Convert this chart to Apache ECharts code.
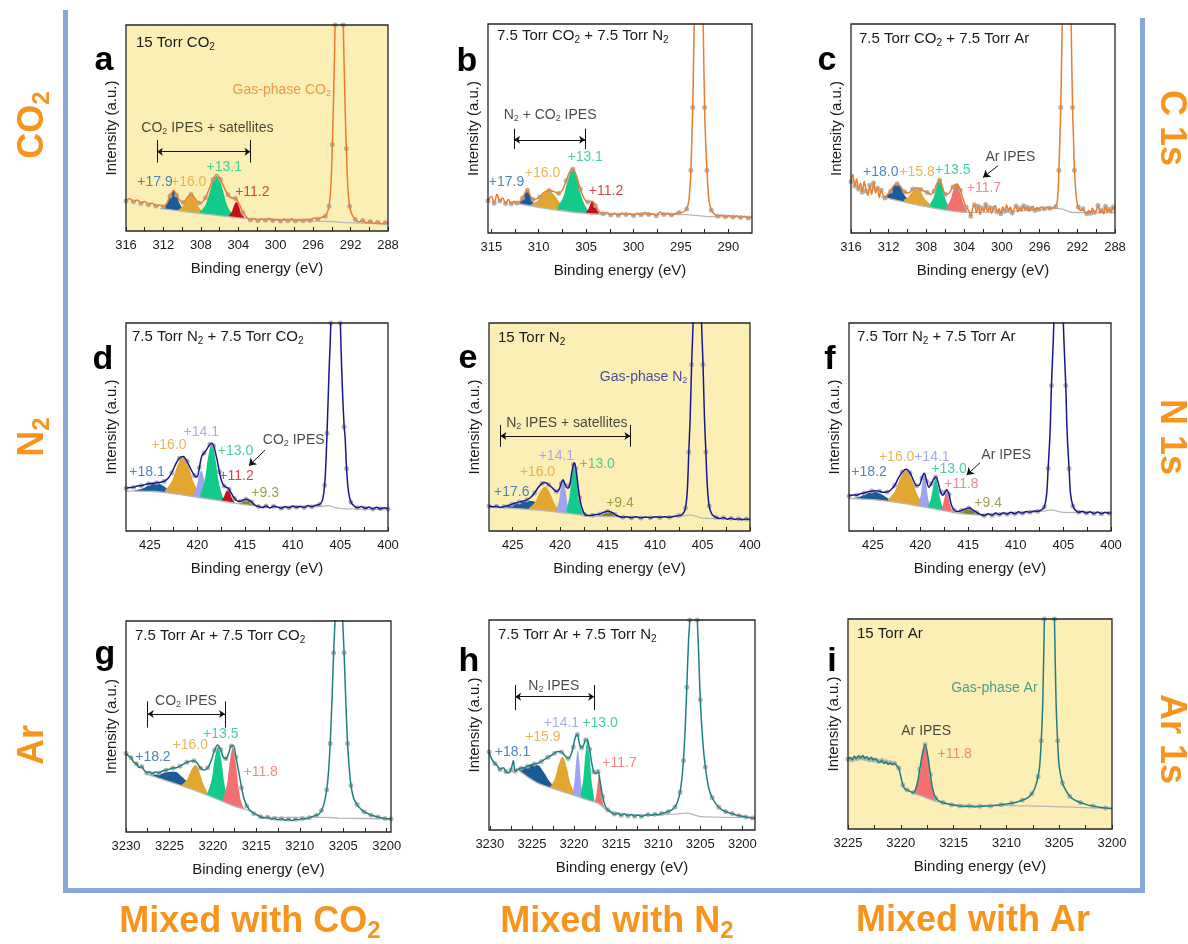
<!DOCTYPE html>
<html>
<head>
<meta charset="utf-8">
<title>IPES spectra of mixed gases</title>
<script src="https://cdn.jsdelivr.net/npm/echarts@6.0.0/dist/echarts.min.js"></script>
<style>
  html, body { margin: 0; padding: 0; background: #fff; }
  #main { width: 1188px; height: 944px; }
</style>
</head>
<body>
<div id="main"></div>
<script>
// ---------- tick positions / labels ----------
const X_C_TICKS = [288, 290, 292, 294, 296, 298, 300, 302, 304, 306, 308, 310, 312, 314, 316];
const X_C_LABELS = [288, 292, 296, 300, 304, 308, 312, 316];
const X_B_TICKS = [290, 292.5, 295, 297.5, 300, 302.5, 305, 307.5, 310, 312.5, 315];
const X_B_LABELS = [290, 295, 300, 305, 310, 315];
const X_N_TICKS = [400, 402.5, 405, 407.5, 410, 412.5, 415, 417.5, 420, 422.5, 425];
const X_N_LABELS = [400, 405, 410, 415, 420, 425];
const X_AR_TICKS = [3200, 3202.5, 3205, 3207.5, 3210, 3212.5, 3215, 3217.5, 3220, 3222.5, 3225, 3227.5, 3230];
const X_AR_LABELS = [3200, 3205, 3210, 3215, 3220, 3225, 3230];
const X_I_TICKS = [3200, 3202.5, 3205, 3207.5, 3210, 3212.5, 3215, 3217.5, 3220, 3222.5, 3225];
const X_I_LABELS = [3200, 3205, 3210, 3215, 3220, 3225];

// ---------- panel a : 15 Torr CO2, C 1s ----------
const aLine = [[316,14.6],[315.6,15.8],[315.2,14.2],[314.8,15.1],[314.4,13.4],[314,14.3],[313.6,12.8],[313.2,13.6],[312.8,12.1],[312.4,12.6],[312,11.8],[311.6,13.8],[311.3,17.0],[310.9,19.6],[310.6,17.5],[310.3,15.2],[309.9,13.8],[309.5,16.0],[309.05,17.8],[308.6,15.6],[308.2,13.6],[307.9,13.8],[307.5,16.2],[307.1,20.5],[306.7,25.0],[306.3,27.4],[305.9,25.0],[305.5,21.0],[305.1,17.6],[304.7,16.0],[304.3,15.8],[303.9,13.0],[303.5,9.0],[303.1,6.6],[302.7,5.4],[302.3,6.1],[301.9,5.0],[301.5,5.9],[301.1,5.2],[300.7,6.2],[300.3,5.1],[299.9,5.7],[299.5,4.8],[299.1,5.8],[298.7,5.0],[298.3,5.9],[297.9,4.9],[297.5,5.6],[297.1,5.0],[296.7,5.7],[296.3,5.1],[295.9,6.3],[295.5,5.8],[295.1,6.6],[294.7,7.2],[294.45,9.5],[294.3,12],[294.1,22],[293.95,42],[293.85,58],[293.65,100],[293.45,150],[293.2,200],[292.95,150],[292.78,100],[292.57,58],[292.45,40],[292.3,22],[292.1,12],[291.85,8],[291.5,5.6],[291.1,4.4],[290.7,5.1],[290.3,3.9],[289.9,4.6],[289.5,3.6],[289.1,4.3],[288.7,3.4],[288.3,4.0],[288,3.6]];
const aBase = [[312.4,11.0],[303,6.0],[296,4.8],[294,4.6],[292.5,4.1],[288,3.6]];
const aBlue = [[312.1,11.1],[311.6,13.3],[311.3,16.5],[310.9,19.4],[310.5,16.1],[310.2,12.6],[309.7,9.9]];
const aGold = [[310.4,10.3],[309.9,12.3],[309.5,15.5],[309.05,17.8],[308.6,15.1],[308.2,11.4],[307.7,8.9]];
const aGreen = [[308.1,9.4],[307.5,12.8],[307.0,19.6],[306.7,24.1],[306.3,26.7],[305.9,23.6],[305.6,18.9],[305.1,11.5],[304.5,7.5]];
const aRed = [[305.0,7.5],[304.7,9.3],[304.45,12.4],[304.2,14.1],[303.95,12.1],[303.7,8.8],[303.35,6.5]];
const aNotes = [['+17.9',312.9,23.6,'blue'],['+16.0',309.3,23.6,'gold'],['+13.1',305.5,30.8,'green'],['+11.2',302.5,18.8,'red'],['CO{s|2} IPES + satellites',307.3,50,'black'],['Gas-phase CO{s|2}',294.1,68.3,'co2','right']];
const aBrackets = [[312.7,302.7,44.2,33.2,38.5]];

// ---------- panel b : 7.5 Torr CO2 + 7.5 Torr N2, C 1s ----------
const bLine = [[315.35,15.4],[315,17.6],[314.7,14.2],[314.4,18.5],[314.1,15.3],[313.8,16.8],[313.5,14.1],[313.2,16.0],[312.9,14.0],[312.6,15.2],[312.3,14.4],[312,15.0],[311.7,16.8],[311.4,19.6],[311.2,20.4],[310.9,18.0],[310.6,16.0],[310.3,16.2],[309.9,17.2],[309.5,19.2],[308.9,20.3],[308.4,19.8],[307.9,19.0],[307.5,20.5],[307.1,25.0],[306.7,29.5],[306.4,30.6],[306.0,27.0],[305.6,21.0],[305.2,16.5],[304.8,14.8],[304.4,15.2],[304.0,13.0],[303.6,10.2],[303.2,9.2],[302.8,9.8],[302.4,8.6],[302.0,9.4],[301.6,8.5],[301.2,9.6],[300.8,8.8],[300.4,9.3],[300,8.4],[299.6,9.5],[299.2,8.7],[298.8,9.8],[298.4,8.9],[298,9.2],[297.6,8.3],[297.2,10.0],[296.8,8.8],[296.4,9.4],[296,8.6],[295.6,9.3],[295.2,9.8],[294.8,10.0],[294.4,11.5],[294.15,16],[293.95,30],[293.85,45],[293.75,60],[293.6,100],[293.4,150],[293.1,200],[292.8,150],[292.65,100],[292.5,60],[292.4,45],[292.25,30],[292.05,16],[291.8,11],[291.5,9.2],[291.1,8.0],[290.7,8.6],[290.3,7.8],[289.9,8.4],[289.5,7.6],[289.1,8.2],[288.7,7.4],[288.3,8.0],[287.9,7.2],[287.5,7.6]];
const bBase = [[312.9,14.6],[303.6,9.0],[298,8.9],[294.5,8.8],[292.5,8.0],[287.5,7.6]];
const bBlue = [[312.0,14.5],[311.7,16.2],[311.45,18.8],[311.2,20.2],[310.95,18.6],[310.7,15.6],[310.4,13.5]];
const bGold = [[310.8,13.8],[310.1,15.5],[309.5,18.5],[308.9,20.2],[308.3,17.8],[307.7,14.0],[307.0,11.5]];
const bGreen = [[308.0,12.6],[307.4,17.3],[306.9,25.7],[306.4,30.6],[305.9,25.1],[305.4,16.1],[304.8,10.7]];
const bRed = [[305.0,10.2],[304.75,11.6],[304.52,14.1],[304.3,15.4],[304.08,13.9],[303.85,11.05],[303.6,9.4]];
const bNotes = [['+17.9',313.4,24.2,'blue'],['+16.0',309.6,28.5,'gold'],['+13.1',305.1,36.2,'green'],['+11.2',302.9,20.2,'red'],['N{s|2} + CO{s|2} IPES',308.8,56.3,'black']];
const bBrackets = [[312.6,305.1,49.9,40.2,44.6]];

// ---------- panel c : 7.5 Torr CO2 + 7.5 Torr Ar, C 1s ----------
const cLine = [[316,24.5],[315.8,28],[315.6,22.5],[315.4,25.8],[315.2,21.0],[315,23.8],[314.8,19.5],[314.6,24.6],[314.4,20.2],[314.2,18.0],[314,22.8],[313.8,18.6],[313.6,24.0],[313.4,19.2],[313.2,21.5],[313,17.0],[312.8,20.4],[312.6,18.2],[312.4,16.8],[312.1,18.5],[311.8,20.0],[311.5,22.5],[311.1,23.6],[310.7,22.0],[310.3,19.6],[309.9,19.2],[309.45,21.0],[309.0,21.6],[308.6,20.8],[308.2,20.0],[307.9,19.4],[307.5,18.4],[307.2,20.0],[306.9,23.5],[306.6,25.4],[306.3,22.0],[306,18.6],[305.6,19.0],[305.2,22.0],[304.8,23.4],[304.4,20.5],[304.1,16.0],[303.8,12.5],[303.5,10.5],[303.3,8.0],[303.1,11.6],[302.9,13.5],[302.7,9.8],[302.5,12.8],[302.3,8.9],[302.1,12.0],[301.9,10.4],[301.7,13.6],[301.5,10.0],[301.3,12.2],[301.1,9.4],[300.9,11.8],[300.7,13.2],[300.5,10.1],[300.3,11.6],[300.1,9.2],[299.9,12.6],[299.7,10.4],[299.5,13.4],[299.3,10.8],[299.1,12.4],[298.9,9.6],[298.7,11.4],[298.5,12.9],[298.3,10.2],[298.1,11.9],[297.9,10.6],[297.7,13.0],[297.5,11.0],[297.3,12.3],[297.1,10.4],[296.9,11.8],[296.7,12.8],[296.5,10.8],[296.3,12.2],[296.1,11.2],[295.8,12.6],[295.5,11.6],[295.2,12.4],[294.9,11.9],[294.6,12.0],[294.3,12.6],[294.1,16],[293.95,30],[293.85,45],[293.75,60],[293.6,100],[293.4,150],[293.1,200],[292.8,150],[292.65,100],[292.5,60],[292.4,45],[292.3,30],[292.1,17],[291.9,12.5],[291.6,10.8],[291.4,11.6],[291.2,10.0],[291,9.2],[290.8,10.8],[290.6,9.5],[290.4,12.0],[290.2,9.8],[290,10.6],[289.8,13.2],[289.6,9.6],[289.4,11.0],[289.2,9.2],[289,12.8],[288.8,10.0],[288.6,11.4],[288.4,9.8],[288.2,12.4],[288,10.5]];
const cBase = [[312.8,17.4],[303.3,9.8],[296,11.0],[294.5,11.8],[293.6,11.4],[292.5,9.8],[288,9.8]];
const cBlue = [[312.4,17.5],[311.9,19.3],[311.5,22.1],[311.1,23.4],[310.7,21.4],[310.3,18.0],[309.8,15.4]];
const cGold = [[310.4,16.0],[309.9,17.4],[309.45,20.1],[309.0,21.5],[308.55,19.3],[308.1,16.0],[307.6,13.8]];
const cGreen = [[307.6,14.1],[307.25,16.9],[306.92,22.4],[306.6,25.3],[306.28,21.9],[305.95,15.8],[305.6,12.4]];
const cSalmon = [[305.9,12.5],[305.5,15.3],[305.15,20.5],[304.8,23.4],[304.45,19.9],[304.1,14.1],[303.7,10.7]];
const cNotes = [['+18.0',312.85,29.0,'blue'],['+15.8',309.0,29.0,'gold'],['+13.5',305.2,30.1,'green'],['+11.7',301.9,21.5,'salmon'],['Ar IPES',299.1,36.5,'black']];
const cArrows = [[300.4,32.2,302.0,26.6]];

// ---------- panel d : 7.5 Torr N2 + 7.5 Torr CO2, N 1s ----------
const dLine = [[427.5,20.5],[427.1,20.9],[426.7,21.0],[426.3,21.6],[425.9,21.8],[425.5,22.3],[425.1,22.7],[424.7,22.9],[424.3,23.2],[423.9,23.4],[423.5,23.9],[423.1,25.2],[422.7,28.0],[422.3,32.0],[421.9,35.0],[421.5,35.8],[421.1,33.5],[420.7,29.8],[420.3,26.6],[420.05,26.0],[419.8,30.5],[419.55,36.0],[419.3,37.5],[419.0,39.5],[418.7,41.6],[418.5,42.2],[418.3,41.0],[418.0,35.5],[417.7,28.5],[417.45,23.8],[417.2,21.6],[416.95,21.0],[416.7,20.2],[416.4,17.8],[416.1,15.6],[415.8,14.4],[415.5,14.3],[415.2,14.9],[414.9,15.3],[414.6,14.9],[414.3,13.9],[414.0,12.6],[413.6,11.8],[413.2,11.3],[412.8,12.0],[412.4,11.1],[412,11.9],[411.6,11.6],[411.2,10.9],[410.8,11.8],[410.4,11.2],[410,12.0],[409.6,11.4],[409.2,11.9],[408.8,11.3],[408.4,12.2],[408,11.7],[407.6,12.4],[407.2,12.8],[406.9,14.5],[406.65,22],[406.5,35],[406.4,47],[406.2,75],[406.0,100],[405.8,150],[405.5,200],[405.2,150],[405.0,100],[404.8,70],[404.6,50],[404.5,45],[404.35,30],[404.15,19],[403.9,14],[403.6,12.2],[403.2,11.2],[402.8,11.8],[402.4,10.9],[402,11.5],[401.6,10.6],[401.2,11.4],[400.8,10.7],[400.4,11.2],[400,10.6]];
const dBase = [[427.5,19.2],[424.5,19.0],[422,17.6],[420,16.2],[418,14.8],[416,13.3],[414,12.1],[413,11.5],[410,11.3],[407,11.8],[406.3,12.2],[405.3,11.0],[404,10.6],[400,10.4]];
const dBlue = [[426.6,19.4],[425.7,20.5],[425.0,22.2],[424.3,23.2],[423.6,21.7],[422.9,19.5],[422.0,17.9]];
const dGold = [[423.4,19.5],[422.7,23.9],[422.1,31.5],[421.5,35.7],[420.9,30.7],[420.3,22.3],[419.6,17.0]];
const dLilac = [[420.4,17.4],[420.1,21.0],[419.85,26.3],[419.6,29.0],[419.35,25.9],[419.1,20.3],[418.8,16.3]];
const dGreen = [[419.7,17.5],[419.25,24.2],[418.88,35.5],[418.5,41.8],[418.12,34.9],[417.75,23.2],[417.3,15.9]];
const dRed = [[417.5,14.8],[417.25,16.2],[417.03,18.6],[416.8,20.0],[416.57,18.2],[416.35,15.6],[416.1,13.8]];
const dOlive = [[415.75,13.2],[415.4,13.7],[415.1,14.5],[414.8,14.9],[414.5,14.2],[414.2,13.0],[413.85,12.1]];
const dNotes = [['+18.1',425.3,28.5,'blue'],['+16.0',423.0,41.3,'gold'],['+14.1',419.6,47.4,'lilac'],['+13.0',416.0,38.6,'green'],['+11.2',415.9,26.4,'red'],['+9.3',412.9,18.4,'olive'],['CO{s|2} IPES',409.9,43.8,'black']];
const dArrows = [[412.9,38.9,414.6,31.4]];

// ---------- panel e : 15 Torr N2, N 1s ----------
const eLine = [[427.5,12.0],[427.1,11.6],[426.7,11.9],[426.3,11.3],[425.9,11.8],[425.5,12.3],[425.1,12.9],[424.7,13.5],[424.3,14.0],[423.9,14.4],[423.5,15.0],[423.1,16.2],[422.7,18.3],[422.3,21.0],[421.9,22.9],[421.6,23.3],[421.2,22.2],[420.8,20.6],[420.4,19.0],[420.15,19.6],[419.9,22.8],[419.7,24.6],[419.45,22.0],[419.2,20.6],[419.0,22.0],[418.8,27.5],[418.6,32.0],[418.5,32.7],[418.35,30.0],[418.15,23.0],[417.95,16.0],[417.7,11.0],[417.4,7.9],[417.0,7.4],[416.6,7.6],[416.2,7.9],[415.8,8.2],[415.4,9.0],[415.0,9.5],[414.6,9.1],[414.2,7.9],[413.8,7.0],[413.4,6.6],[413,6.9],[412.5,6.4],[412,6.8],[411.5,6.3],[411,6.7],[410.5,6.4],[410,6.9],[409.5,6.5],[409,6.9],[408.5,6.6],[408,7.1],[407.5,7.4],[407.1,8.0],[406.8,11],[406.6,20],[406.45,38],[406.3,55],[406.15,80],[406.0,100],[405.8,150],[405.55,200],[405.3,150],[405.1,100],[404.95,80],[404.8,55],[404.65,38],[404.5,22],[404.3,12],[404.0,8.0],[403.6,6.6],[403.2,6.0],[402.8,6.4],[402.4,5.7],[402,6.1],[401.6,5.5],[401.2,5.9],[400.8,5.4],[400.4,5.8],[400,5.4]];
const eBase = [[427.5,11.7],[425,10.9],[422,9.9],[420,8.9],[418,7.8],[417,7.3],[415,6.9],[410,6.6],[407,7.2],[406.3,7.8],[405,6.2],[400,5.9]];
const eBlue = [[426.3,11.6],[425.2,12.2],[424.2,13.8],[423.2,14.6],[422.2,13.1],[421.2,10.8],[420.1,9.3]];
const eGold = [[423.3,11.0],[422.65,13.8],[422.1,18.9],[421.6,21.3],[421.1,18.4],[420.55,12.8],[419.9,9.4]];
const eLilac = [[420.4,10.1],[420.15,14.0],[419.93,20.5],[419.7,24.5],[419.47,20.3],[419.25,13.6],[419.0,9.3]];
const eGreen = [[419.35,9.8],[419.03,16.2],[418.77,26.3],[418.5,32.5],[418.23,26.1],[417.97,15.6],[417.65,8.8],[417.4,7.6]];
const eOlive = [[416.0,7.0],[415.6,7.7],[415.25,8.7],[414.9,9.3],[414.55,8.7],[414.2,7.7],[413.8,7.0]];
const eNotes = [['+17.6',425.1,18.9,'blue'],['+16.0',422.4,28.5,'gold'],['+14.1',420.4,36.2,'lilac'],['+13.0',416.1,32.1,'green'],['+9.4',413.7,13.3,'olive'],['N{s|2} IPES + satellites',419.3,51.8,'black'],['Gas-phase N{s|2}',406.6,74.2,'n2','right']];
const eBrackets = [[426.3,412.6,51.0,40.5,45.7]];

// ---------- panel f : 7.5 Torr N2 + 7.5 Torr Ar, N 1s ----------
const fLine = [[427.5,16.8],[427.1,17.3],[426.7,17.2],[426.3,17.9],[425.9,18.3],[425.5,18.9],[425.1,19.2],[424.7,19.4],[424.3,19.1],[423.9,18.6],[423.5,18.7],[423.1,19.8],[422.7,22.0],[422.3,25.5],[421.9,28.4],[421.5,29.7],[421.1,28.0],[420.7,24.0],[420.4,21.8],[420.1,22.2],[419.85,25.5],[419.6,27.8],[419.35,24.0],[419.1,21.0],[418.85,22.8],[418.6,25.0],[418.4,26.0],[418.15,23.5],[417.9,19.0],[417.65,17.2],[417.45,18.5],[417.25,19.8],[417.0,17.5],[416.75,12.5],[416.45,10.0],[416.1,9.4],[415.7,9.8],[415.3,10.6],[414.9,11.0],[414.5,10.2],[414.1,8.9],[413.7,8.0],[413.3,7.4],[412.9,8.3],[412.5,7.6],[412.1,8.6],[411.7,7.9],[411.3,8.8],[410.9,8.1],[410.5,9.0],[410.1,8.3],[409.7,9.2],[409.3,8.5],[408.9,9.4],[408.5,9.0],[408.1,9.6],[407.7,9.5],[407.3,10.2],[407.0,11.5],[406.75,18],[406.6,30],[406.4,47],[406.25,70],[406.0,100],[405.8,150],[405.5,200],[405.2,150],[405.0,100],[404.75,70],[404.6,47],[404.4,30],[404.25,18],[404.0,12],[403.7,9.8],[403.4,9.0],[403,9.5],[402.6,8.6],[402.2,9.2],[401.8,8.4],[401.4,9.1],[401,8.3],[400.6,9.0],[400.2,8.5],[400,8.8]];
const fBase = [[427.5,15.6],[425,15.1],[422,13.4],[420,11.8],[418,10.2],[416.5,8.9],[415,8.0],[413,7.7],[410,8.2],[407,9.6],[406.3,10.2],[405,9.0],[400,8.8]];
const fBlue = [[427.2,15.7],[426.3,16.6],[425.55,18.1],[424.8,18.9],[424.05,17.5],[423.3,15.4],[422.4,13.9]];
const fGold = [[423.4,15.2],[422.7,19.0],[422.1,25.6],[421.5,29.3],[420.9,24.7],[420.3,17.2],[419.6,12.5]];
const fLilac = [[420.2,12.8],[419.98,16.9],[419.79,23.6],[419.6,27.4],[419.41,23.3],[419.22,16.3],[419.0,11.9]];
const fGreen = [[419.2,11.9],[418.9,15.6],[418.65,21.8],[418.4,25.3],[418.15,21.4],[417.9,14.8],[417.6,10.7]];
const fSalmon = [[417.85,10.6],[417.63,12.8],[417.44,16.6],[417.25,18.9],[417.06,16.4],[416.87,12.2],[416.65,9.7]];
const fOlive = [[416.1,8.6],[415.65,9.1],[415.28,10.1],[414.9,10.6],[414.52,9.9],[414.15,8.6],[413.7,7.8]];
const fNotes = [['+18.2',425.4,28.2,'blue'],['+16.0',422.5,35.7,'gold'],['+14.1',418.8,35.7,'lilac'],['+13.0',417.0,29.7,'green'],['+11.8',415.7,22.4,'salmon'],['+9.4',412.9,13.6,'olive'],['Ar IPES',411.0,36.5,'black']];
const fArrows = [[413.75,32.8,415.15,26.9]];

// ---------- panel g : 7.5 Torr Ar + 7.5 Torr CO2, Ar 1s ----------
const gLine = [[3230,37.3],[3229.7,36.0],[3229.4,35.2],[3229.1,33.0],[3228.8,32.4],[3228.5,30.6],[3228.2,31.0],[3227.9,29.2],[3227.6,28.0],[3227.3,28.5],[3227.0,27.6],[3226.6,28.4],[3226.2,28.0],[3225.8,28.9],[3225.4,29.3],[3225.0,29.8],[3224.6,30.3],[3224.2,30.4],[3223.8,31.2],[3223.4,32.2],[3223.0,33.0],[3222.6,33.6],[3222.2,33.8],[3221.8,32.6],[3221.4,30.2],[3221.0,29.4],[3220.6,30.4],[3220.2,33.8],[3219.8,38.8],[3219.45,41.2],[3219.1,39.0],[3218.8,35.4],[3218.5,34.8],[3218.2,37.2],[3217.9,40.8],[3217.65,41.0],[3217.35,35.5],[3217.0,28.0],[3216.7,21.0],[3216.4,15.5],[3216.1,12.5],[3215.7,10.2],[3215.3,8.8],[3214.9,8.0],[3214.5,7.2],[3214.1,6.6],[3213.7,7.0],[3213.3,6.1],[3212.9,6.5],[3212.5,5.8],[3212.1,6.3],[3211.7,5.6],[3211.3,6.0],[3210.9,5.4],[3210.5,6.1],[3210.1,5.8],[3209.7,6.4],[3209.3,6.2],[3208.9,6.8],[3208.5,7.4],[3208.1,7.9],[3207.8,8.4],[3207.5,10.2],[3207.2,13.5],[3206.9,20],[3206.7,28],[3206.5,42],[3206.3,62],[3206.1,85],[3205.95,100],[3205.7,140],[3205.5,160],[3205.3,140],[3205.05,100],[3204.9,85],[3204.7,62],[3204.5,42],[3204.3,30],[3204.1,22],[3203.8,16],[3203.4,13.0],[3203.0,11.0],[3202.6,9.6],[3202.2,8.8],[3201.8,8.0],[3201.4,7.6],[3201.0,7.1],[3200.6,6.8],[3200.2,6.4],[3199.8,6.3],[3199.5,6.2]];
const gBase = [[3227.7,27.5],[3224.4,23.0],[3222,19.6],[3219.4,15.4],[3217.7,12.5],[3215.6,9.8],[3214,7.0],[3207,6.9],[3205.5,6.6],[3199.5,6.2]];
const gBlue = [[3227.3,27.3],[3226.2,27.3],[3225.3,28.4],[3224.4,28.6],[3223.5,25.9],[3222.6,22.3],[3221.5,18.5]];
const gGold = [[3223.55,22.5],[3222.98,24.9],[3222.49,29.4],[3222.0,31.7],[3221.51,27.9],[3221.02,21.9],[3220.45,17.8]];
const gGreen = [[3220.6,18.7],[3220.15,24.6],[3219.78,34.8],[3219.4,40.5],[3219.02,33.6],[3218.65,22.1],[3218.2,14.8]];
const gSalmon = [[3218.8,15.9],[3218.38,22.5],[3218.04,33.7],[3217.7,40.0],[3217.36,32.7],[3217.02,20.4],[3216.6,12.6],[3216.2,10.6]];
const gNotes = [['+18.2',3226.9,35.7,'blue'],['+16.0',3222.6,41.0,'gold'],['+13.5',3219.1,46.3,'green'],['+11.8',3214.5,28.6,'salmon'],['CO{s|2} IPES',3223.1,62.2,'black']];
const gBrackets = [[3227.5,3218.6,61.9,49.5,55.9]];

// ---------- panel h : 7.5 Torr Ar + 7.5 Torr N2, Ar 1s ----------
const hLine = [[3230.1,37.3],[3229.8,34.0],[3229.4,31.7],[3229.1,30.6],[3228.8,28.8],[3228.4,29.6],[3228.1,27.8],[3227.8,27.2],[3227.5,28.6],[3227.2,33.0],[3227.0,28.0],[3226.7,28.8],[3226.3,29.4],[3225.9,29.8],[3225.5,30.4],[3225.1,31.0],[3224.7,31.4],[3224.3,31.8],[3223.9,32.6],[3223.5,33.6],[3223.1,34.6],[3222.7,35.6],[3222.3,36.6],[3221.9,37.4],[3221.5,37.2],[3221.1,35.4],[3220.7,34.1],[3220.4,35.5],[3220.1,39.5],[3219.85,44.0],[3219.6,45.5],[3219.35,41.0],[3219.1,39.2],[3218.85,40.5],[3218.6,43.0],[3218.4,42.8],[3218.15,38.5],[3217.9,32.0],[3217.65,27.6],[3217.4,26.8],[3217.15,27.8],[3216.9,23.0],[3216.6,16.0],[3216.3,11.5],[3216.0,9.6],[3215.6,8.4],[3215.2,7.6],[3214.8,7.9],[3214.4,7.0],[3214.0,7.6],[3213.6,6.8],[3213.2,7.4],[3212.8,6.6],[3212.4,7.2],[3212.0,6.5],[3211.6,7.0],[3211.2,7.4],[3210.8,7.0],[3210.4,7.5],[3210.0,7.3],[3209.6,7.9],[3209.2,8.2],[3208.8,8.8],[3208.4,9.6],[3208.0,11.0],[3207.7,13.5],[3207.4,18],[3207.2,24],[3207.0,33],[3206.8,48],[3206.6,68],[3206.4,90],[3206.25,100],[3206.0,140],[3205.8,160],[3205.6,140],[3205.35,100],[3205.2,85],[3205.0,62],[3204.7,42],[3204.4,30],[3204.0,20],[3203.6,15.5],[3203.2,12.8],[3202.8,10.8],[3202.4,9.6],[3202.0,8.8],[3201.6,8.2],[3201.2,7.8],[3200.8,7.2],[3200.4,6.8],[3200.0,6.6],[3199.6,6.2],[3199.2,5.9],[3198.8,5.7],[3198.5,5.6]];
const hBase = [[3227.0,29.6],[3224.4,22.5],[3221.35,18.3],[3219.55,15.9],[3218.4,14.3],[3217.0,12.4],[3216.1,9.5],[3212,7.0],[3208,7.6],[3206.6,8.0],[3204.9,6.4],[3198.5,6.0]];
const hBlue = [[3226.6,29.3],[3225.9,29.4],[3225.15,31.0],[3224.4,31.0],[3223.65,27.9],[3222.9,23.1],[3222.0,19.8]];
const hGold = [[3222.8,20.7],[3222.25,24.8],[3221.8,31.4],[3221.35,34.9],[3220.9,30.2],[3220.45,22.4],[3219.9,17.4]];
const hLilac = [[3220.15,18.0],[3219.93,23.5],[3219.74,32.9],[3219.55,38.1],[3219.36,32.3],[3219.17,22.5],[3218.95,16.4]];
const hGreen = [[3219.2,17.1],[3218.9,24.2],[3218.65,36.1],[3218.4,42.9],[3218.15,35.5],[3217.9,22.8],[3217.6,14.9]];
const hSalmon = [[3217.52,13.9],[3217.33,17.3],[3217.17,23.0],[3217.0,26.2],[3216.83,22.3],[3216.67,15.8],[3216.48,11.5],[3216.2,9.8]];
const hNotes = [['+18.1',3227.3,37.3,'blue'],['+15.9',3223.7,44.4,'gold'],['+14.1',3221.5,51.1,'lilac'],['+13.0',3216.9,50.8,'green'],['+11.7',3214.6,31.7,'salmon'],['N{s|2} IPES',3222.4,68.6,'black']];
const hBrackets = [[3227.0,3217.6,69.0,57.1,63.5]];

// ---------- panel i : 15 Torr Ar, Ar 1s ----------
const iLine = [[3225,33.2],[3224.8,34.0],[3224.6,33.0],[3224.4,34.6],[3224.2,33.4],[3224.0,34.9],[3223.8,33.8],[3223.6,35.0],[3223.4,33.6],[3223.2,34.4],[3223.0,33.0],[3222.8,34.2],[3222.6,32.8],[3222.4,33.6],[3222.2,32.4],[3222.0,31.6],[3221.8,32.6],[3221.6,31.2],[3221.4,32.0],[3221.2,30.8],[3221.0,31.6],[3220.8,30.6],[3220.6,31.3],[3220.4,30.2],[3220.2,29.0],[3220.0,25.0],[3219.8,21.0],[3219.6,19.0],[3219.4,18.6],[3219.1,17.8],[3218.8,17.4],[3218.5,20.5],[3218.2,28.5],[3217.95,36.0],[3217.7,40.2],[3217.45,35.0],[3217.2,26.0],[3216.95,18.5],[3216.7,14.8],[3216.4,13.4],[3216.0,12.6],[3215.6,12.0],[3215.2,11.6],[3214.8,11.2],[3214.4,11.0],[3214.0,10.7],[3213.5,10.9],[3213.0,10.5],[3212.5,10.8],[3212.0,10.9],[3211.5,11.0],[3211.0,11.3],[3210.5,11.5],[3210.0,11.9],[3209.5,12.3],[3209.0,12.9],[3208.5,13.7],[3208.0,14.8],[3207.6,16.8],[3207.3,19.5],[3207.0,25],[3206.85,30],[3206.7,42],[3206.55,61],[3206.4,100],[3206.15,140],[3205.9,160],[3205.65,140],[3205.45,100],[3205.3,61],[3205.15,42],[3205.0,30],[3204.7,22],[3204.4,18.6],[3204.0,15.6],[3203.6,14.0],[3203.0,12.6],[3202.4,11.6],[3201.8,10.9],[3201.2,10.4],[3200.6,10.0],[3200,9.8]];
const iBase = [[3219.0,17.4],[3218.8,17.0],[3217.7,15.1],[3216.6,13.0],[3214,11.3],[3208,11.0],[3200,9.7]];
const iSalmon = [[3218.75,17.7],[3218.3,24.1],[3218.0,34.3],[3217.7,40.0],[3217.4,33.2],[3217.1,21.9],[3216.65,13.9]];
const iNotes = [['+11.8',3214.9,35.7,'salmon'],['Ar IPES',3217.6,46.8,'black'],['Gas-phase Ar',3207.05,67.0,'ar','right']];

// ---------- styling ----------
const FONT = "'Liberation Sans', Arial, Helvetica, sans-serif";
const YELLOW = '#fcefb6';
const ORANGE = '#f7941d';
const FRAME = '#88a8d8';
const FILL = { blue: '#1b5b98', gold: '#e3a630', green: '#12cb8b', red: '#c3101a', lilac: '#9ea3f4', salmon: '#f4706e', olive: '#85851d' };
const TXT = { blue: '#2265aa', gold: '#e6a22c', green: '#16c588', red: '#c8161e', lilac: '#8f95ee', salmon: '#f06a6a', olive: '#8a8a22', black: '#1a1a1a', co2: '#ee7f2d', n2: '#1d1d92', ar: '#1b8a8a' };
const GAS = { co2: '#ec7b2a', n2: '#17178f', ar: '#1e7f82' };

const PANELS = [
  { key: 'a', box: [126, 25, 388, 231], yellow: true, range: [288, 316], ticks: X_C_TICKS, labels: X_C_LABELS, gas: 'co2', line: aLine, base: aBase,
    peaks: [['blue', aBlue], ['gold', aGold], ['green', aGreen], ['red', aRed]], notes: aNotes, brackets: aBrackets, arrows: [],
    title: '15 Torr CO{s|2}', titleAt: [136, 43], letterAt: [104, 44] },
  { key: 'b', box: [488, 24, 752, 233], yellow: false, range: [287.5, 315.35], ticks: X_B_TICKS, labels: X_B_LABELS, gas: 'co2', line: bLine, base: bBase,
    peaks: [['blue', bBlue], ['gold', bGold], ['green', bGreen], ['red', bRed]], notes: bNotes, brackets: bBrackets, arrows: [],
    title: '7.5 Torr CO{s|2} + 7.5 Torr N{s|2}', titleAt: [497, 36], letterAt: [467, 45] },
  { key: 'c', box: [851, 24, 1115, 233], yellow: false, range: [288, 316], ticks: X_C_TICKS, labels: X_C_LABELS, gas: 'co2', line: cLine, base: cBase,
    peaks: [['blue', cBlue], ['gold', cGold], ['green', cGreen], ['salmon', cSalmon]], notes: cNotes, brackets: [], arrows: cArrows,
    title: '7.5 Torr CO{s|2} + 7.5 Torr Ar', titleAt: [859, 39], letterAt: [827, 44] },
  { key: 'd', box: [126, 323, 388, 531], yellow: false, range: [400, 427.5], ticks: X_N_TICKS, labels: X_N_LABELS, gas: 'n2', line: dLine, base: dBase,
    peaks: [['blue', dBlue], ['gold', dGold], ['lilac', dLilac], ['green', dGreen], ['red', dRed], ['olive', dOlive]], notes: dNotes, brackets: [], arrows: dArrows,
    title: '7.5 Torr N{s|2} + 7.5 Torr CO{s|2}', titleAt: [132, 337], letterAt: [103, 343] },
  { key: 'e', box: [489, 323, 750, 531], yellow: true, range: [400, 427.5], ticks: X_N_TICKS, labels: X_N_LABELS, gas: 'n2', line: eLine, base: eBase,
    peaks: [['blue', eBlue], ['gold', eGold], ['lilac', eLilac], ['green', eGreen], ['olive', eOlive]], notes: eNotes, brackets: eBrackets, arrows: [],
    title: '15 Torr N{s|2}', titleAt: [498, 338], letterAt: [468, 342] },
  { key: 'f', box: [849, 323, 1111, 531], yellow: false, range: [400, 427.5], ticks: X_N_TICKS, labels: X_N_LABELS, gas: 'n2', line: fLine, base: fBase,
    peaks: [['blue', fBlue], ['gold', fGold], ['lilac', fLilac], ['green', fGreen], ['salmon', fSalmon], ['olive', fOlive]], notes: fNotes, brackets: [], arrows: fArrows,
    title: '7.5 Torr N{s|2} + 7.5 Torr Ar', titleAt: [857, 337], letterAt: [830, 343] },
  { key: 'g', box: [126, 621, 391, 832], yellow: false, range: [3199.5, 3230], ticks: X_AR_TICKS, labels: X_AR_LABELS, gas: 'ar', line: gLine, base: gBase,
    peaks: [['blue', gBlue], ['gold', gGold], ['green', gGreen], ['salmon', gSalmon]], notes: gNotes, brackets: gBrackets, arrows: [],
    title: '7.5 Torr Ar + 7.5 Torr CO{s|2}', titleAt: [135, 636], letterAt: [105, 638] },
  { key: 'h', box: [489, 620, 755, 830], yellow: false, range: [3198.5, 3230.1], ticks: X_AR_TICKS, labels: X_AR_LABELS, gas: 'ar', line: hLine, base: hBase,
    peaks: [['blue', hBlue], ['gold', hGold], ['lilac', hLilac], ['green', hGreen], ['salmon', hSalmon]], notes: hNotes, brackets: hBrackets, arrows: [],
    title: '7.5 Torr Ar + 7.5 Torr N{s|2}', titleAt: [498, 635], letterAt: [469, 645] },
  { key: 'i', box: [848, 619, 1112, 829], yellow: true, range: [3200, 3225], ticks: X_I_TICKS, labels: X_I_LABELS, gas: 'ar', line: iLine, base: iBase,
    peaks: [['salmon', iSalmon]], notes: iNotes, brackets: [], arrows: [],
    title: '15 Torr Ar', titleAt: [857, 634], letterAt: [832, 645] }
];

function subRich(size, color, weight) {
  return { s: { fontSize: Math.round(size * 0.66), padding: [Math.round(size * 0.5), 0, 0, 0], color: color, fill: color, fontFamily: FONT, fontWeight: weight || 'normal' } };
}

function bigText(text, x, y, rot) {
  return {
    type: 'text', x: x, y: y, rotation: rot || 0, silent: true, z: 100,
    style: { text: text, fill: ORANGE, fontSize: 36, fontWeight: 'bold', fontFamily: FONT, align: 'center', verticalAlign: 'middle', rich: subRich(36, ORANGE, 'bold') }
  };
}

const option = { animation: false, backgroundColor: '#ffffff', grid: [], xAxis: [], yAxis: [], series: [], graphic: [] };

PANELS.forEach(function (p, i) {
  const l = p.box[0], t = p.box[1], w = p.box[2] - p.box[0], h = p.box[3] - p.box[1];
  const bg = p.yellow ? YELLOW : '#ffffff';

  option.grid.push({ left: l, top: t, width: w, height: h, show: true, backgroundColor: bg, borderWidth: 0, containLabel: false, outerBoundsMode: 'none' });

  option.xAxis.push({
    type: 'value', gridIndex: i, inverse: true, min: p.range[0], max: p.range[1], z: 6,
    name: 'Binding energy (eV)', nameLocation: 'middle', nameGap: 30, nameMoveOverlap: false,
    nameTextStyle: { fontFamily: FONT, fontSize: 15, color: '#1a1a1a' },
    axisLine: { show: false },
    axisTick: { show: true, inside: true, length: 4, customValues: p.ticks, lineStyle: { color: '#222', width: 1 } },
    axisLabel: { customValues: p.labels, margin: 8, fontFamily: FONT, fontSize: 13, color: '#1a1a1a', formatter: function (v) { return String(v); } },
    splitLine: { show: false }
  });
  option.yAxis.push({
    type: 'value', gridIndex: i, min: 0, max: 100,
    name: 'Intensity (a.u.)', nameLocation: 'middle', nameGap: 7, nameMoveOverlap: false,
    nameTextStyle: { fontFamily: FONT, fontSize: 15, color: '#1a1a1a' },
    axisLine: { show: false }, axisTick: { show: false }, axisLabel: { show: false }, splitLine: { show: false }
  });

  // fitted components, filled down to the axis and later masked below the background
  p.peaks.forEach(function (pk) {
    option.series.push({
      type: 'line', xAxisIndex: i, yAxisIndex: i, data: pk[1], smooth: 0.4, symbol: 'none', silent: true, z: 2,
      lineStyle: { width: 0 }, areaStyle: { color: FILL[pk[0]], opacity: 1 }
    });
  });
  // background (Shirley) line, its area paints the plot colour under it
  option.series.push({
    type: 'line', xAxisIndex: i, yAxisIndex: i, data: p.base, smooth: 0.3, symbol: 'none', silent: true, z: 3,
    lineStyle: { color: '#b8b8b8', width: 1.3 }, areaStyle: { color: bg, opacity: 1 }
  });
  // measured points (every other sample) as open circles
  option.series.push({
    type: 'scatter', xAxisIndex: i, yAxisIndex: i, silent: true, z: 4,
    data: p.line.filter(function (d, k) { return k % 2 === 0; }),
    symbol: 'emptyCircle', symbolSize: 3, itemStyle: { color: '#a2a2a2', borderWidth: 0.7 }
  });
  // spectrum trace
  option.series.push({
    type: 'line', xAxisIndex: i, yAxisIndex: i, data: p.line, smooth: 0.35, silent: true, z: 5, clip: true,
    showSymbol: false, symbol: 'none',
    lineStyle: { color: GAS[p.gas], width: 1.5 }
  });
  // text annotations
  option.series.push({
    type: 'scatter', xAxisIndex: i, yAxisIndex: i, symbolSize: 1, silent: true, z: 7,
    itemStyle: { color: 'rgba(0,0,0,0)' },
    data: p.notes.map(function (n) {
      return {
        value: [n[1], n[2]],
        label: { show: true, position: 'inside', formatter: n[0], color: TXT[n[3]], align: n[4] || 'center', verticalAlign: 'middle',
                 fontFamily: FONT, fontSize: 14, rich: subRich(14, TXT[n[3]]) }
      };
    })
  });
  if (p.brackets.length) {
    option.series.push({
      type: 'lines', coordinateSystem: 'cartesian2d', xAxisIndex: i, yAxisIndex: i, silent: true, z: 7,
      symbol: ['arrow', 'arrow'], symbolSize: 6, lineStyle: { color: '#111', width: 1, opacity: 1 },
      data: p.brackets.map(function (b) { return { coords: [[b[0], b[4]], [b[1], b[4]]] }; })
    });
    const bars = [];
    p.brackets.forEach(function (b) {
      bars.push({ coords: [[b[0], b[2]], [b[0], b[3]]] });
      bars.push({ coords: [[b[1], b[2]], [b[1], b[3]]] });
    });
    option.series.push({
      type: 'lines', coordinateSystem: 'cartesian2d', xAxisIndex: i, yAxisIndex: i, silent: true, z: 7,
      symbol: 'none', lineStyle: { color: '#111', width: 1, opacity: 1 }, data: bars
    });
  }
  if (p.arrows.length) {
    option.series.push({
      type: 'lines', coordinateSystem: 'cartesian2d', xAxisIndex: i, yAxisIndex: i, silent: true, z: 7,
      symbol: ['none', 'arrow'], symbolSize: 7, lineStyle: { color: '#111', width: 1, opacity: 1 },
      data: p.arrows.map(function (a) { return { coords: [[a[0], a[1]], [a[2], a[3]]] }; })
    });
  }

  // frame, condition text and panel letter
  option.graphic.push({ type: 'rect', silent: true, z: 100, shape: { x: l, y: t, width: w, height: h }, style: { fill: 'none', stroke: '#262626', lineWidth: 1.3 } });
  option.graphic.push({
    type: 'text', x: p.titleAt[0], y: p.titleAt[1], silent: true, z: 100,
    style: { text: p.title, fill: '#1a1a1a', fontSize: 15, fontFamily: FONT, align: 'left', verticalAlign: 'middle', rich: subRich(15, '#1a1a1a') }
  });
  option.graphic.push({
    type: 'text', x: p.letterAt[0], y: p.letterAt[1], silent: true, z: 100,
    style: { text: p.key, fill: '#000', fontSize: 34, fontWeight: 'bold', fontFamily: FONT, align: 'center', verticalAlign: 'alphabetic' }
  });
});

// outer light-blue frame and row / column captions
option.graphic.push({
  type: 'polyline', silent: true, z: 90,
  shape: { points: [[65.5, 10], [65.5, 890.5], [1142.5, 890.5], [1142.5, 18]] },
  style: { fill: 'none', stroke: FRAME, lineWidth: 5, lineJoin: 'miter' }
});
option.graphic.push(bigText('CO{s|2}', 33, 125, Math.PI / 2));
option.graphic.push(bigText('N{s|2}', 33, 437, Math.PI / 2));
option.graphic.push(bigText('Ar', 33, 745, Math.PI / 2));
option.graphic.push(bigText('C 1s', 1171, 128, -Math.PI / 2));
option.graphic.push(bigText('N 1s', 1171, 437, -Math.PI / 2));
option.graphic.push(bigText('Ar 1s', 1171, 739, -Math.PI / 2));
option.graphic.push(bigText('Mixed with CO{s|2}', 250, 922));
option.graphic.push(bigText('Mixed with N{s|2}', 617, 922));
option.graphic.push(bigText('Mixed with Ar', 973, 921));

const chart = echarts.init(document.getElementById('main'));
chart.setOption(option);
window.addEventListener('resize', function () { chart.resize(); });
</script>
</body>
</html>
